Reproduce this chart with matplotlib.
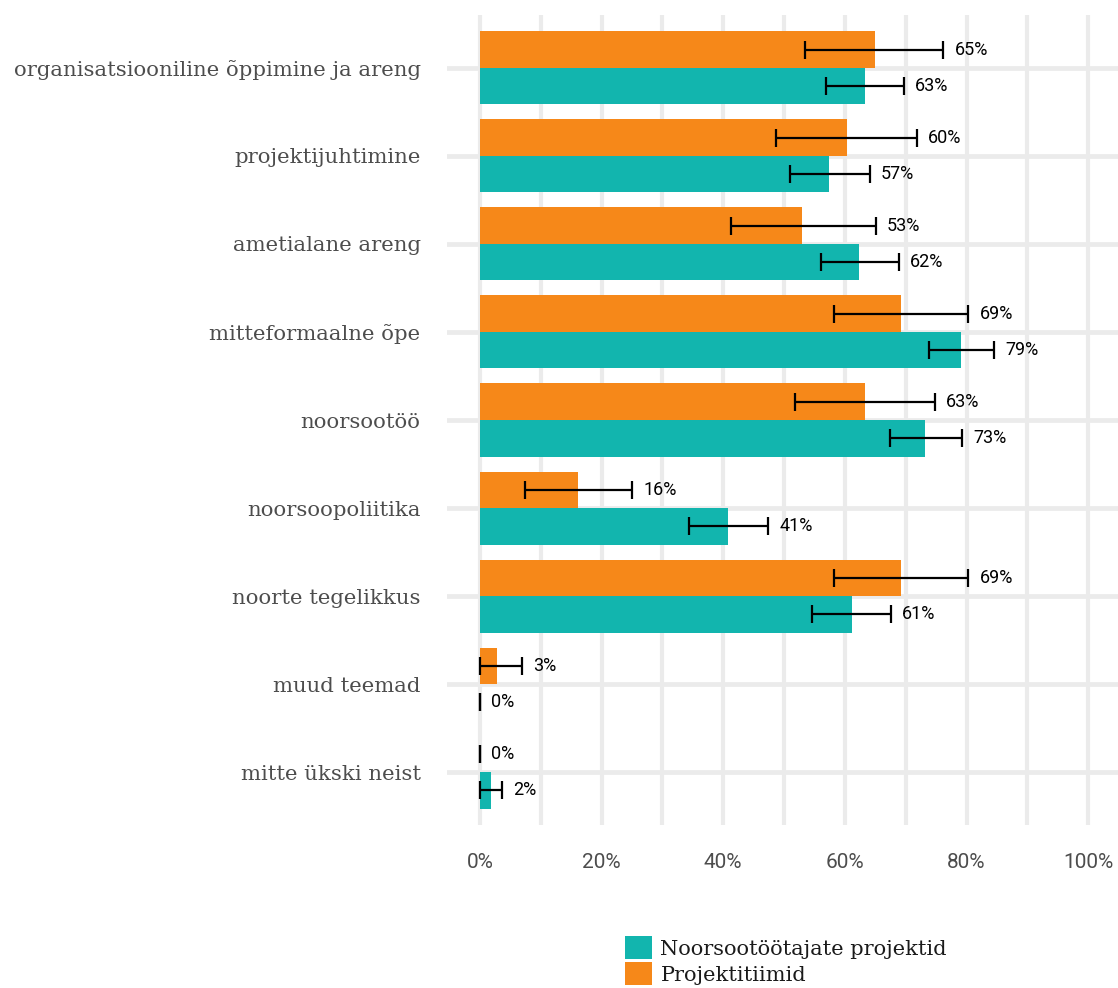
import matplotlib
matplotlib.use("Agg")
import matplotlib.pyplot as plt
from matplotlib.patches import Patch
import numpy as np

# categories, top to bottom
categories = [
    "organisatsiooniline õppimine ja areng",
    "projektijuhtimine",
    "ametialane areng",
    "mitteformaalne õpe",
    "noorsootöö",
    "noorsoopoliitika",
    "noorte tegelikkus",
    "muud teemad",
    "mitte ükski neist",
]

# Noorsootöötajate projektid (teal)
teal = [63.3, 57.4, 62.3, 79.1, 73.2, 40.8, 61.2, 0.0, 1.8]
teal_lo = [56.9, 51.0, 56.1, 73.8, 67.4, 34.4, 54.6, 0.0, 0.0]
teal_hi = [69.7, 64.1, 68.9, 84.5, 79.3, 47.4, 67.6, 0.0, 3.6]

# Projektitiimid (orange)
orange = [65.0, 60.4, 53.0, 69.2, 63.3, 16.1, 69.2, 2.8, 0.0]
orange_lo = [53.5, 48.7, 41.3, 58.2, 51.8, 7.4, 58.2, 0.0, 0.0]
orange_hi = [76.2, 71.9, 65.1, 80.3, 74.8, 25.0, 80.3, 6.9, 0.0]

TEAL = "#12B5AE"
ORANGE = "#F68819"
GRID = "#EBEBEB"

fig = plt.figure(figsize=(11.18, 9.88), dpi=100)
ax = fig.add_axes([447 / 1118, 163 / 988, 671 / 1118, 810 / 988])

n = len(categories)
y = np.arange(n)[::-1]
h = 0.415


def draw_series(vals, lo, hi, color, offset):
    vals = np.array(vals)
    lo = np.array(lo)
    hi = np.array(hi)
    ax.barh(y + offset, vals, height=h, color=color, zorder=2)
    ax.errorbar(vals, y + offset, xerr=[vals - lo, hi - vals], fmt="none",
                ecolor="black", elinewidth=1.6, capsize=6.5, capthick=1.6, zorder=3)
    for yy, top, v in zip(y + offset, hi, vals):
        ax.annotate(f"{round(v)}%", (top, yy), xytext=(8, 0), textcoords="offset points",
                    va="center", ha="left", fontsize=13, family="Roboto", color="black")


draw_series(orange, orange_lo, orange_hi, ORANGE, h / 2)
draw_series(teal, teal_lo, teal_hi, TEAL, -h / 2)

ax.set_xlim(-5.4, 104.9)
ax.set_ylim(-0.6, n - 0.4)
ax.set_xticks(np.arange(0, 101, 20))
ax.set_xticks(np.arange(10, 100, 20), minor=True)
ax.set_xticklabels([f"{t}%" for t in range(0, 101, 20)], family="Roboto",
                   fontsize=15, color="#4D4D4D")
ax.set_yticks(y)
ax.set_yticklabels(categories, family="DejaVu Serif", fontsize=15.3, color="#4D4D4D")
ax.tick_params(axis="both", which="both", length=0)
ax.tick_params(axis="y", pad=19)
ax.tick_params(axis="x", pad=20)
ax.grid(True, which="both", axis="x", color=GRID, linewidth=3)
ax.grid(True, which="major", axis="y", color=GRID, linewidth=3.4)
ax.set_axisbelow(True)
for s in ax.spines.values():
    s.set_visible(False)

handles = [Patch(facecolor=TEAL, label="Noorsootöötajate projektid"),
           Patch(facecolor=ORANGE, label="Projektitiimid")]
fig.legend(handles=handles, loc="lower center", bbox_to_anchor=(786 / 1118, -0.012),
           frameon=False, prop={"family": "DejaVu Serif", "size": 15},
           handlelength=1.3, handleheight=1.35, labelspacing=0.12, handletextpad=0.4,
           borderpad=0.2, labelcolor="#1A1A1A")

fig.savefig("out.png", dpi=100)
